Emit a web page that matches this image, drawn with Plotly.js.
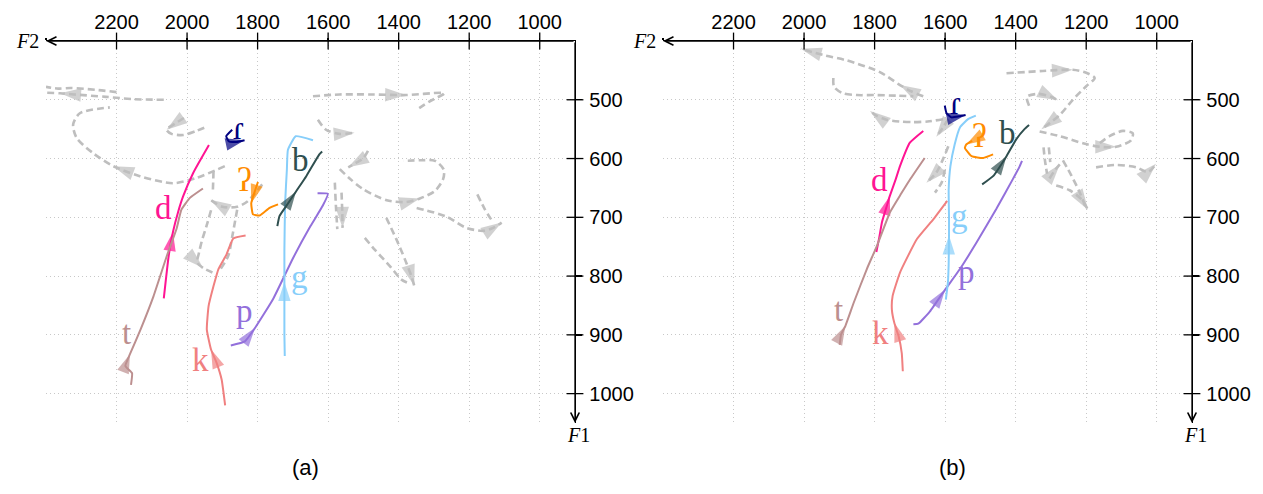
<!DOCTYPE html>
<html><head><meta charset="utf-8">
<script src="https://cdn.plot.ly/plotly-3.0.1.min.js"></script>
<style>html,body{margin:0;padding:0;background:#fff}#chart{width:1263px;height:494px}</style>
</head><body><div id="chart"></div>
<script>
// ---------- axes ----------
const f2Ticks = [2400, 2200, 2000, 1800, 1600, 1400, 1200, 1000];
const f2TickText = ['', '2200', '2000', '1800', '1600', '1400', '1200', '1000'];
const f1Ticks = [500, 600, 700, 800, 900, 1000];
const f2Range = [2400, 900];
const f1Range = [1050, 400];

// ---------- panel (a): coloured trajectories, [F2, F1] ----------
const aD = [[2066,838],[2052,765],[2040,725],[2025,690],[2011,664],[1983,625],[1960,600],[1938,577]];
const aT = [[2159,985],[2156,965],[2175,953],[2162,933],[2132,891],[2095,834],[2057,765],[2030,720],[2016,687],[1992,667],[1955,651]];
const aK = [[1892,1020],[1902,976],[1916,948],[1932,925],[1944,891],[1939,851],[1925,817],[1911,788],[1888,763],[1869,736],[1834,731]];
const aP = [[1876,918],[1836,911],[1807,888],[1756,839],[1700,770],[1650,715],[1615,680],[1601,660],[1630,659]];
const aG = [[1723,936],[1724,900],[1724,850],[1724,810],[1724,755],[1722,676],[1717,619],[1714,585],[1692,562],[1643,569]];
const aB = [[1744,715],[1738,698],[1719,681],[1691,656],[1662,630],[1625,593],[1617,588]];
const aGlot = [[1799,640],[1808,656],[1818,676],[1813,695],[1794,697],[1766,684],[1742,678]];
const aFlap = [[1872,551],[1889,562],[1881,571],[1860,572],[1837,569]];

// ---------- panel (a): grey context trajectories ----------
const aGr1 = [[2066,500],[2150,499],[2230,495],[2320,491],[2360,489],[2400,488]];
const aGr2 = [[2200,487],[2260,483],[2330,480],[2365,481],[2400,478]];
const aGr3 = [[2009,531],[2035,541],[2058,551],[2044,558],[2011,560],[1974,553],[1941,545]];
const aGr4 = [[1893,613],[1974,633],[2040,642],[2134,630],[2209,613],[2266,591],[2313,565],[2323,542],[2304,523],[2219,513]];
const aGr5 = [[1643,494],[1568,491],[1474,491],[1379,492],[1271,489],[1313,503],[1351,518]];
const aGr6 = [[1629,534],[1606,551],[1568,558],[1525,556]];
const aGr7 = [[1487,587],[1501,600],[1520,607],[1543,615]];
const aGr8 = [[1567,618],[1539,634],[1501,652],[1434,671],[1378,674],[1340,668],[1297,655],[1274,635],[1272,619],[1297,604],[1340,603],[1387,604]];
const aGr9 = [[1581,641],[1578,680],[1574,720]];
const aGr10 = [[1562,658],[1560,690],[1559,718]];
const aGr11 = [[1435,701],[1406,738],[1382,772],[1364,800],[1356,816]];
const aGr12 = [[1496,735],[1468,755],[1425,783],[1392,806],[1368,813]];
const aGr13 = [[1349,684],[1264,699],[1208,718],[1160,723],[1132,718],[1108,709]];
const aGr14 = [[1177,661],[1156,686],[1132,709]];
const aGr15 = [[1787,644],[1829,673],[1858,682],[1900,682],[1934,670]];
const aGr16 = [[1932,688],[1945,715],[1958,740],[1966,760],[1971,777],[1955,786],[1920,796]];
const aGr17 = [[1858,687],[1872,733],[1883,765],[1906,789]];
const aGr18 = [[1925,622],[1927,658]];

// ---------- panel (b): coloured trajectories ----------
const bD = [[1795,759],[1787,735],[1779,708],[1765,680],[1757,664],[1740,635],[1728,613],[1700,573],[1662,553]];
const bT = [[1899,917],[1895,899],[1883,885],[1859,845],[1822,788],[1793,748],[1756,691],[1725,660],[1700,636],[1658,599]];
const bK = [[1720,962],[1723,931],[1732,902],[1744,880],[1751,857],[1749,834],[1728,794],[1680,737],[1633,703],[1594,672]];
const bP = [[1690,882],[1676,881],[1643,860],[1600,823],[1558,788],[1511,743],[1455,686],[1408,635],[1390,615],[1382,604]];
const bG = [[1598,840],[1592,810],[1590,780],[1589,731],[1589,700],[1590,653],[1585,613],[1573,576],[1558,547],[1535,533],[1513,527]];
const bB = [[1495,644],[1464,630],[1426,596],[1398,567],[1375,550],[1362,543]];
const bGlot = [[1523,570],[1540,576],[1544,582],[1525,596],[1492,599],[1464,593]];
const bFlap = [[1601,510],[1596,523],[1582,530],[1558,528],[1542,526]];

// ---------- panel (b): grey context trajectories ----------
const bGr1 = [[1662,494],[1695,486],[1728,475],[1785,453],[1879,433],[1945,424],[2009,413]];
const bGr2 = [[1917,463],[1915,478],[1890,489],[1850,492],[1801,492],[1740,493],[1690,494]];
const bGr3 = [[1606,533],[1650,537],[1691,538],[1730,537],[1766,534],[1795,527],[1813,519]];
const bGr4 = [[1591,533],[1606,547],[1625,563]];
const bGr5 = [[1591,579],[1606,601],[1625,624],[1653,641]];
const bGr6 = [[1601,619],[1610,641],[1629,658]];
const bGr7 = [[1426,455],[1323,451],[1238,449],[1200,454],[1176,463],[1200,477],[1238,500],[1275,526],[1327,550]];
const bGr8 = [[1362,510],[1368,495],[1335,490],[1300,495],[1280,501]];
const bGr9 = [[1332,554],[1275,562],[1209,574],[1162,580],[1115,580],[1073,569],[1068,557],[1096,553],[1134,562],[1162,574]];
const bGr10 = [[1172,615],[1115,611],[1058,615],[1025,623],[1002,609]];
const bGr11 = [[1321,581],[1317,603],[1311,626]];
const bGr12 = [[1306,581],[1302,606]];
const bGr13 = [[1304,634],[1290,621],[1275,610]];
const bGr14 = [[1285,646],[1247,654],[1214,669],[1195,687]];
const bGr15 = [[1266,603],[1242,629],[1219,657],[1202,682]];

// ---------- phoneme labels ----------
const labelText = ['d', 't', 'k', 'p', 'g', 'b', 'ʔ', 'ɾ'];
const aLabelF2 = [2068, 2172, 1963, 1838, 1680, 1678, 1837, 1854];
const aLabelF1 = [684, 896, 942, 859, 802, 602, 636, 548];
const bLabelF2 = [1785, 1902, 1784, 1539, 1558, 1422, 1502, 1571];
const bLabelF1 = [636, 857, 897, 793, 697, 556, 561, 506];

// ---------- styles ----------
const COL = {d:'#FF1493', t:'#BC8F8F', k:'#F08080', p:'#9370DB', g:'#87CEFA', b:'#2F4F4F', 'ʔ':'#FF8C00', 'ɾ':'#000080'};
const GREY = '#bebebe';

const coloured = [
  ['a', aD, 'd', [2]], ['a', aT, 't', [3]], ['a', aK, 'k', [3]], ['a', aP, 'p', [2]],
  ['a', aG, 'g', [3]], ['a', aB, 'b', [3]], ['a', aGlot, 'ʔ', [2]], ['a', aFlap, 'ɾ', [4]],
  ['b', bD, 'd', [4]], ['b', bT, 't', [2]], ['b', bK, 'k', [3]], ['b', bP, 'p', [3]],
  ['b', bG, 'g', [3]], ['b', bB, 'b', [2]], ['b', bGlot, 'ʔ', [1]], ['b', bFlap, 'ɾ', [4]]
];
const greys = [
  ['a', aGr1, [4]], ['a', aGr2, []], ['a', aGr3, [2]], ['a', aGr4, [4]], ['a', aGr5, [3]],
  ['a', aGr6, [3]], ['a', aGr7, [3]], ['a', aGr8, [5]], ['a', aGr9, []], ['a', aGr10, [2]],
  ['a', aGr11, [4]], ['a', aGr12, []], ['a', aGr13, [5]], ['a', aGr14, []], ['a', aGr15, [4]],
  ['a', aGr16, [5]], ['a', aGr17, []], ['a', aGr18, []],
  ['b', bGr1, [2, 6]], ['b', bGr2, []], ['b', bGr3, [6]], ['b', bGr4, [2]], ['b', bGr5, [3]],
  ['b', bGr6, []], ['b', bGr7, [2, 8]], ['b', bGr8, [4]], ['b', bGr9, [4]], ['b', bGr10, [4]],
  ['b', bGr11, []], ['b', bGr12, []], ['b', bGr13, [2]], ['b', bGr14, [3]], ['b', bGr15, []]
];

function axesOf(panel) { return panel === 'a' ? ['x', 'y'] : ['x2', 'y2']; }

function trajTrace(panel, pts, color, arrows, dashed) {
  const [xa, ya] = axesOf(panel);
  return {
    type: 'scatter', mode: 'lines+markers', xaxis: xa, yaxis: ya,
    x: pts.map(p => p[0]), y: pts.map(p => p[1]),
    line: {color: color, width: dashed ? 2.6 : 2, dash: dashed ? '7px,4px' : 'solid',
           shape: 'spline', smoothing: dashed ? 0.8 : 0.4, backoff: 0},
    marker: {size: pts.map((p, i) => arrows.includes(i) ? (dashed ? 22 : 20) : 0),
             symbol: 'arrow', angleref: 'previous', color: color, line: {width: 0}},
    hoverinfo: 'skip', showlegend: false, cliponaxis: false
  };
}

const traces = [];
greys.forEach(([panel, pts, arrows]) => traces.push(trajTrace(panel, pts, GREY, arrows, true)));
coloured.forEach(([panel, pts, ph, arrows]) => traces.push(trajTrace(panel, pts, COL[ph], arrows, false)));

// crossing tick marks on both panels
['a', 'b'].forEach(panel => {
  const [xa, ya] = axesOf(panel);
  const xt = f2Ticks.slice(1);
  traces.push({type: 'scatter', mode: 'markers', xaxis: xa, yaxis: ya,
    x: xt, y: xt.map(() => f1Range[1]),
    marker: {symbol: 'line-ns', size: 12, line: {width: 1.3, color: '#000'}},
    hoverinfo: 'skip', showlegend: false, cliponaxis: false});
  traces.push({type: 'scatter', mode: 'markers', xaxis: xa, yaxis: ya,
    x: f1Ticks.map(() => f2Range[1]), y: f1Ticks,
    marker: {symbol: 'line-ew', size: 12, line: {width: 1.3, color: '#000'}},
    hoverinfo: 'skip', showlegend: false, cliponaxis: false});
});

const W = 1263, H = 494;
const yDom = [(H - 423) / H, (H - 41) / H];
const tickFont = {family: 'Liberation Sans, Arial, Helvetica, sans-serif', size: 20, color: '#000'};
function xAxis(dom, anchor) {
  return {domain: dom, range: f2Range, side: 'top', anchor: anchor,
    tickvals: f2Ticks, ticktext: f2TickText, ticks: 'outside', ticklen: 2, tickwidth: 1.3, tickcolor: '#000',
    showline: true, linecolor: '#000', linewidth: 1.3, showgrid: true, gridcolor: '#c8c8c8', griddash: '1px,3px',
    gridwidth: 1, zeroline: false, tickfont: tickFont, fixedrange: true, ticklabelstandoff: 1};
}
function yAxis(anchor) {
  return {domain: yDom, range: f1Range, side: 'right', anchor: anchor,
    tickvals: f1Ticks, ticks: 'outside', ticklen: 6, tickwidth: 1.3, tickcolor: '#000',
    showline: true, linecolor: '#000', linewidth: 1.3, showgrid: true, gridcolor: '#c8c8c8', griddash: '1px,3px',
    gridwidth: 1, zeroline: false, tickfont: tickFont, fixedrange: true, ticklabelstandoff: 3};
}

const annotations = [];
const serif = 'Liberation Serif, DejaVu Serif, Times New Roman, serif';
['a', 'b'].forEach(panel => {
  const [xa, ya] = axesOf(panel);
  // axis arrows
  annotations.push({xref: xa, yref: ya, axref: xa, ayref: ya, x: f2Range[0], y: f1Range[1],
    ax: f2Range[1], ay: f1Range[1], showarrow: true, arrowhead: 5, arrowsize: 1.3, arrowwidth: 1.3,
    arrowcolor: '#000', text: ''});
  annotations.push({xref: xa, yref: ya, axref: xa, ayref: ya, x: f2Range[1], y: f1Range[0],
    ax: f2Range[1], ay: f1Range[1], showarrow: true, arrowhead: 5, arrowsize: 1.3, arrowwidth: 1.3,
    arrowcolor: '#000', text: ''});
  // axis names
  annotations.push({xref: xa, yref: ya, x: f2Range[0], y: f1Range[1], text: '<i>F</i>2', showarrow: false,
    xanchor: 'right', yanchor: 'middle', xshift: -5, font: {family: serif, size: 20, color: '#000'}});
  annotations.push({xref: xa, yref: ya, x: f2Range[1], y: f1Range[0], text: '<i>F</i>1', showarrow: false,
    xanchor: 'center', yanchor: 'top', xshift: 3, yshift: 1, font: {family: serif, size: 20, color: '#000'}});
  // phoneme labels
  const lx = panel === 'a' ? aLabelF2 : bLabelF2;
  const ly = panel === 'a' ? aLabelF1 : bLabelF1;
  labelText.forEach((t, i) => annotations.push({xref: xa, yref: ya, x: lx[i], y: ly[i], text: t,
    showarrow: false, xanchor: 'center', yanchor: 'middle', font: {family: serif, size: 33, color: COL[t]}}));
});
const capFont = {family: 'Liberation Sans, Arial, Helvetica, sans-serif', size: 22, color: '#000'};
annotations.push({xref: 'paper', yref: 'paper', x: 305 / W, y: (H - 467) / H, text: '(a)', showarrow: false,
  xanchor: 'center', yanchor: 'middle', font: capFont});
annotations.push({xref: 'paper', yref: 'paper', x: 952 / W, y: (H - 467) / H, text: '(b)', showarrow: false,
  xanchor: 'center', yanchor: 'middle', font: capFont});

const layout = {
  width: W, height: H, margin: {l: 0, r: 0, t: 0, b: 0},
  paper_bgcolor: '#fff', plot_bgcolor: '#fff', showlegend: false,
  xaxis: xAxis([46 / W, 575 / W], 'y'), yaxis: yAxis('x'),
  xaxis2: xAxis([663 / W, 1192 / W], 'y2'), yaxis2: yAxis('x2'),
  annotations: annotations
};

Plotly.newPlot('chart', traces, layout, {staticPlot: true, displayModeBar: false});
</script>
</body></html>
